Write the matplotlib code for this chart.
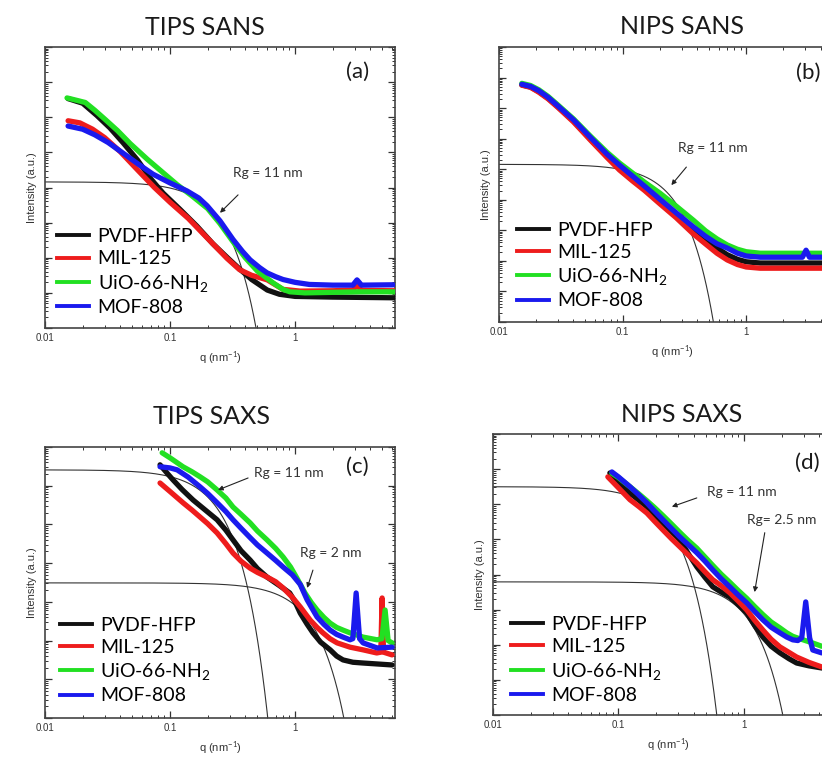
import numpy as np
import matplotlib
matplotlib.use("Agg")
import matplotlib.pyplot as plt
from matplotlib.ticker import LogLocator, NullFormatter
from matplotlib.lines import Line2D

plt.rcParams["mathtext.fontset"] = "custom"
plt.rcParams["mathtext.rm"] = "Lato"
plt.rcParams["mathtext.it"] = "Lato:italic"
plt.rcParams["mathtext.bf"] = "Lato:bold"

# ---------------------------------------------------------------- data
samples = ["PVDF-HFP", "MIL-125", "UiO-66-NH$_2$", "MOF-808"]
colors = ["#111111", "#ee1c1c", "#22e022", "#1a1aee"]

# (a) TIPS SANS  -- q in nm^-1, log10 of intensity (a.u.)
q_a_pvdf = [0.0153, 0.020, 0.026, 0.033, 0.042, 0.055, 0.070, 0.088, 0.12, 0.164, 0.22, 0.29, 0.36, 0.45, 0.60, 0.75, 1.0, 2.0, 6.3]
logI_a_pvdf = [6.53, 6.40, 6.05, 5.70, 5.28, 4.78, 4.25, 3.84, 3.38, 2.90, 2.40, 1.99, 1.68, 1.38, 1.08, 0.96, 0.90, 0.88, 0.86]
q_a_mil = [0.0153, 0.019, 0.024, 0.030, 0.040, 0.055, 0.075, 0.10, 0.14, 0.20, 0.286, 0.36, 0.45, 0.60, 0.80, 1.10, 2.0, 2.9, 3.13, 3.4, 6.3]
logI_a_mil = [5.90, 5.84, 5.66, 5.42, 5.02, 4.50, 4.00, 3.58, 3.12, 2.55, 1.98, 1.66, 1.50, 1.37, 1.10, 1.05, 1.06, 1.08, 1.22, 1.07, 1.06]
q_a_uio = [0.015, 0.018, 0.021, 0.025, 0.030, 0.038, 0.048, 0.066, 0.088, 0.114, 0.15, 0.20, 0.25, 0.32, 0.40, 0.50, 0.67, 0.80, 0.91, 1.2, 3.3, 6.3]
logI_a_uio = [6.55, 6.48, 6.42, 6.20, 5.95, 5.62, 5.25, 4.80, 4.42, 4.08, 3.76, 3.40, 2.98, 2.45, 2.00, 1.62, 1.28, 1.10, 1.03, 1.00, 1.03, 1.03]
q_a_mof = [0.0153, 0.020, 0.025, 0.032, 0.042, 0.055, 0.073, 0.10, 0.137, 0.17, 0.198, 0.251, 0.319, 0.38, 0.437, 0.52, 0.597, 0.70, 0.802, 1.0, 1.3, 2.0, 2.9, 3.13, 3.4, 6.1]
logI_a_mof = [5.75, 5.66, 5.50, 5.28, 4.98, 4.68, 4.38, 4.13, 3.90, 3.70, 3.48, 3.05, 2.52, 2.18, 1.94, 1.72, 1.57, 1.46, 1.38, 1.30, 1.24, 1.22, 1.22, 1.37, 1.22, 1.23]

# (b) NIPS SANS
q_b_pvdf = [0.0153, 0.018, 0.021, 0.025, 0.030, 0.040, 0.055, 0.075, 0.0946, 0.12, 0.15, 0.20, 0.27, 0.374, 0.47, 0.58, 0.703, 0.85, 1.0, 1.3, 6.3]
logI_b_pvdf = [7.76, 7.69, 7.54, 7.32, 7.04, 6.58, 5.98, 5.41, 5.00, 4.66, 4.36, 3.93, 3.48, 3.00, 2.70, 2.42, 2.20, 2.05, 1.97, 1.93, 1.93]
q_b_mil = [0.0153, 0.018, 0.021, 0.025, 0.030, 0.040, 0.055, 0.075, 0.0946, 0.12, 0.15, 0.20, 0.27, 0.374, 0.47, 0.58, 0.703, 0.85, 1.0, 1.3, 6.3]
logI_b_mil = [7.75, 7.68, 7.52, 7.30, 7.02, 6.55, 5.95, 5.38, 4.97, 4.62, 4.31, 3.87, 3.42, 2.88, 2.55, 2.25, 2.03, 1.88, 1.80, 1.76, 1.76]
q_b_uio = [0.0153, 0.018, 0.021, 0.025, 0.030, 0.040, 0.055, 0.075, 0.0946, 0.12, 0.15, 0.20, 0.27, 0.374, 0.47, 0.58, 0.703, 0.85, 1.0, 1.3, 6.3]
logI_b_uio = [7.81, 7.74, 7.60, 7.38, 7.10, 6.65, 6.08, 5.55, 5.20, 4.88, 4.58, 4.22, 3.80, 3.33, 2.98, 2.72, 2.52, 2.38, 2.30, 2.25, 2.25]
q_b_mof = [0.0153, 0.018, 0.021, 0.025, 0.030, 0.040, 0.055, 0.075, 0.0946, 0.12, 0.15, 0.20, 0.27, 0.374, 0.47, 0.58, 0.703, 0.85, 1.0, 1.3, 2.85, 3.05, 3.25, 6.3]
logI_b_mof = [7.78, 7.71, 7.57, 7.35, 7.07, 6.62, 6.04, 5.49, 5.13, 4.78, 4.45, 4.02, 3.58, 3.11, 2.80, 2.56, 2.42, 2.25, 2.16, 2.12, 2.12, 2.35, 2.12, 2.12]

# (c) TIPS SAXS
q_c_pvdf = [0.0832, 0.095, 0.1057, 0.125, 0.153, 0.19, 0.238, 0.28, 0.319, 0.37, 0.437, 0.50, 0.597, 0.75, 0.906, 1.0, 1.10, 1.25, 1.39, 1.6, 1.91, 2.15, 2.42, 2.9, 3.5, 5.97]
logI_c_pvdf = [6.54, 6.32, 6.15, 5.90, 5.63, 5.38, 5.12, 4.85, 4.60, 4.32, 4.08, 3.86, 3.64, 3.42, 3.23, 3.00, 2.71, 2.42, 2.20, 1.96, 1.76, 1.60, 1.50, 1.44, 1.42, 1.37]
q_c_mil = [0.0832, 0.10, 0.127, 0.15, 0.174, 0.20, 0.238, 0.28, 0.319, 0.37, 0.437, 0.50, 0.597, 0.70, 0.802, 0.95, 1.10, 1.32, 1.5, 1.67, 1.9, 2.17, 2.75, 3.5, 4.5, 4.85, 4.97, 5.1, 5.97]
logI_c_mil = [6.07, 5.85, 5.56, 5.37, 5.19, 5.02, 4.78, 4.50, 4.26, 4.05, 3.87, 3.76, 3.64, 3.52, 3.36, 3.12, 2.87, 2.53, 2.34, 2.20, 2.05, 1.94, 1.83, 1.76, 1.68, 1.70, 3.10, 1.70, 1.63]
q_c_uio = [0.0865, 0.10, 0.127, 0.15, 0.174, 0.20, 0.238, 0.28, 0.319, 0.37, 0.437, 0.50, 0.597, 0.70, 0.802, 0.92, 1.04, 1.2, 1.35, 1.5, 1.7, 1.91, 2.15, 2.42, 2.75, 3.5, 4.53, 4.95, 5.25, 5.55, 5.97]
logI_c_uio = [6.85, 6.72, 6.49, 6.36, 6.23, 6.10, 5.89, 5.68, 5.45, 5.26, 5.04, 4.83, 4.60, 4.38, 4.16, 3.90, 3.60, 3.23, 2.98, 2.79, 2.60, 2.45, 2.34, 2.27, 2.20, 2.09, 2.02, 2.05, 2.79, 2.00, 1.94]
q_c_mof = [0.0832, 0.10, 0.114, 0.14, 0.174, 0.20, 0.238, 0.28, 0.319, 0.37, 0.437, 0.50, 0.597, 0.70, 0.802, 0.95, 1.10, 1.25, 1.5, 1.7, 1.91, 2.15, 2.42, 2.75, 2.9, 3.08, 3.28, 3.5, 4.53, 5.97]
logI_c_mof = [6.49, 6.46, 6.41, 6.22, 5.97, 5.80, 5.56, 5.33, 5.12, 4.90, 4.66, 4.47, 4.26, 4.07, 3.90, 3.70, 3.45, 3.05, 2.61, 2.42, 2.27, 2.16, 2.09, 2.02, 2.05, 3.23, 2.05, 1.94, 1.81, 1.83]

# (d) NIPS SAXS
q_d_pvdf = [0.0855, 0.10, 0.1236, 0.145, 0.1687, 0.195, 0.2264, 0.265, 0.309, 0.36, 0.422, 0.49, 0.566, 0.66, 0.773, 0.90, 1.057, 1.22, 1.42, 1.65, 1.94, 2.3, 2.64, 3.3, 4.17, 6.3]
logI_d_pvdf = [6.89, 6.64, 6.32, 6.12, 5.93, 5.70, 5.47, 5.22, 4.99, 4.60, 4.22, 3.92, 3.65, 3.50, 3.36, 3.15, 2.91, 2.55, 2.22, 1.96, 1.77, 1.60, 1.48, 1.40, 1.34, 1.30]
q_d_mil = [0.0824, 0.10, 0.1236, 0.145, 0.1687, 0.195, 0.2264, 0.265, 0.309, 0.36, 0.422, 0.49, 0.566, 0.66, 0.773, 0.90, 1.057, 1.22, 1.42, 1.65, 1.94, 2.3, 2.64, 3.3, 4.17, 6.3]
logI_d_mil = [6.78, 6.47, 6.13, 5.94, 5.75, 5.51, 5.27, 5.02, 4.79, 4.56, 4.33, 4.08, 3.85, 3.68, 3.48, 3.25, 2.99, 2.70, 2.42, 2.16, 1.94, 1.78, 1.65, 1.50, 1.37, 1.30]
q_d_uio = [0.0887, 0.10, 0.1236, 0.145, 0.1687, 0.195, 0.2264, 0.265, 0.309, 0.36, 0.422, 0.49, 0.566, 0.66, 0.773, 0.90, 1.057, 1.22, 1.42, 1.65, 1.94, 2.2, 2.46, 2.8, 3.55, 4.17, 6.3]
logI_d_uio = [6.88, 6.76, 6.50, 6.30, 6.10, 5.90, 5.68, 5.44, 5.20, 4.97, 4.75, 4.50, 4.26, 4.01, 3.78, 3.55, 3.32, 3.09, 2.86, 2.65, 2.48, 2.34, 2.24, 2.17, 2.05, 1.96, 1.90]
q_d_mof = [0.0887, 0.10, 0.1236, 0.145, 0.1687, 0.195, 0.2264, 0.265, 0.309, 0.36, 0.422, 0.49, 0.566, 0.66, 0.773, 0.90, 1.057, 1.22, 1.42, 1.65, 1.94, 2.2, 2.46, 2.7, 2.9, 3.12, 3.35, 3.55, 4.17, 6.3]
logI_d_mof = [6.92, 6.78, 6.50, 6.27, 6.04, 5.80, 5.56, 5.31, 5.07, 4.85, 4.62, 4.38, 4.13, 3.88, 3.65, 3.42, 3.19, 2.95, 2.71, 2.50, 2.34, 2.22, 2.14, 2.12, 2.20, 3.22, 2.20, 1.85, 1.77, 1.75]

# Guinier fits: radius of gyration (nm) and log10 of forward intensity
guinier_a = [(11, 4.16)]
guinier_b = [(11, 5.16)]
guinier_c = [(11, 6.41), (2, 3.49)]
guinier_d = [(11, 6.50), (2.5, 3.79)]

titles = ["TIPS SANS", "NIPS SANS", "TIPS SAXS", "NIPS SAXS"]
tags = ["(a)", "(b)", "(c)", "(d)"]
decades = [8, 9, 7, 8]

# ---------------------------------------------------------------- layout
W, H = 822, 760
fig = plt.figure(figsize=(W / 100, H / 100), dpi=100)

# axes boxes in pixels: left, top, right, bottom
boxes = [(45, 47, 395, 328), (499, 47, 845, 322), (45, 447, 395, 718), (493, 434, 844, 715)]

panels = [
    dict(q=[q_a_pvdf, q_a_mil, q_a_uio, q_a_mof], I=[logI_a_pvdf, logI_a_mil, logI_a_uio, logI_a_mof],
         guinier=guinier_a, title_x=0.457, title_y=1.071, tag_xy=(0.894, 0.911), tag_ha="center",
         legend_xy=(0.035, 0.043),
         notes=[("Rg = 11 nm", (0.608, 10**4.42), (0.35, 10**3.79), (0.251, 10**3.28), "center")]),
    dict(q=[q_b_pvdf, q_b_mil, q_b_uio, q_b_mof], I=[logI_b_pvdf, logI_b_mil, logI_b_uio, logI_b_mof],
         guinier=guinier_b, title_x=0.529, title_y=1.073, tag_xy=(0.928, 0.905), tag_ha="right",
         legend_xy=(0.052, 0.046),
         notes=[("Rg = 11 nm", (0.532, 10**5.69), (0.328, 10**5.07), (0.248, 10**4.48), "center")]),
    dict(q=[q_c_pvdf, q_c_mil, q_c_uio, q_c_mof], I=[logI_c_pvdf, logI_c_mil, logI_c_uio, logI_c_mof],
         guinier=guinier_c, title_x=0.477, title_y=1.111, tag_xy=(0.891, 0.926), tag_ha="center",
         legend_xy=(0.043, 0.05),
         notes=[("Rg = 11 nm", (0.895, 10**6.33), (0.421, 10**6.20), (0.242, 10**5.89), "center"),
                ("Rg = 2 nm", (1.94, 10**4.26), (1.39, 10**3.82), (1.25, 10**3.36), "center")]),
    dict(q=[q_d_pvdf, q_d_mil, q_d_uio, q_d_mof], I=[logI_d_pvdf, logI_d_mil, logI_d_uio, logI_d_mof],
         guinier=guinier_d, title_x=0.536, title_y=1.068, tag_xy=(0.931, 0.897), tag_ha="right",
         legend_xy=(0.05, 0.04),
         notes=[("Rg = 11 nm", (0.964, 10**6.35), (0.422, 10**6.18), (0.267, 10**5.93), "center"),
                ("Rg= 2.5 nm", (1.06, 10**5.56), (1.47, 10**5.19), (1.22, 10**3.50), "left")]),
]

q_model = np.logspace(-2, np.log10(6.3), 600)

for i, (p, box) in enumerate(zip(panels, boxes)):
    l, t, r, b = box
    ax = fig.add_axes([l / W, 1 - b / H, (r - l) / W, (b - t) / H])
    ax.set_xscale("log")
    ax.set_yscale("log")
    ax.set_xlim(0.01, 6.3)
    ax.set_ylim(1, 10 ** decades[i])

    # Guinier approximations I0 * exp(-q^2 Rg^2 / 3)
    for rg, logi0 in p["guinier"]:
        ax.plot(q_model, 10 ** logi0 * np.exp(-(q_model * rg) ** 2 / 3.0),
                color="#333333", lw=0.8, zorder=2)

    # scattering curves
    for qs, li, c in zip(p["q"], p["I"], colors):
        ax.plot(qs, 10 ** np.asarray(li), color=c, lw=3.8, solid_capstyle="round",
                solid_joinstyle="round", zorder=3)

    # annotations
    for txt, txy, tail, head, ha in p["notes"]:
        ax.text(*txy, txt, fontsize=10, family="Lato", color="#333333", ha=ha, va="center", zorder=5)
        ax.annotate("", xy=head, xytext=tail,
                    arrowprops=dict(arrowstyle="-|>", color="#222222", lw=0.8,
                                    mutation_scale=7, shrinkA=0, shrinkB=0), zorder=5)

    ax.text(p["title_x"], p["title_y"], titles[i], transform=ax.transAxes, ha="center",
            va="center", fontsize=18, family="Lato", color="#1a1a1a")
    ax.text(*p["tag_xy"], tags[i], transform=ax.transAxes, ha=p["tag_ha"], va="center",
            fontsize=16, family="Lato", color="#1a1a1a")

    handles = [Line2D([], [], color=c, lw=2.8) for c in colors]
    ax.legend(handles, samples, loc="lower left", bbox_to_anchor=p["legend_xy"],
              frameon=False, prop={"family": "Lato", "size": 14}, handlelength=1.65,
              handletextpad=0.42, labelspacing=0.27, borderpad=0, borderaxespad=0)

    # ticks
    ax.set_xticks([0.01, 0.1, 1])
    ax.set_xticklabels(["0.01", "0.1", "1"], family="Liberation Sans")
    ax.xaxis.set_minor_locator(LogLocator(base=10, subs=np.arange(2, 10), numticks=100))
    ax.xaxis.set_minor_formatter(NullFormatter())
    ax.yaxis.set_major_locator(LogLocator(base=10, numticks=100))
    ax.yaxis.set_minor_locator(LogLocator(base=10, subs=np.arange(2, 10), numticks=200))
    ax.yaxis.set_minor_formatter(NullFormatter())
    ax.tick_params(which="both", direction="in", top=True, right=True, labelleft=False,
                   colors="#333333", labelsize=7, labelcolor="#333333")
    ax.tick_params(which="major", length=5, width=0.9)
    ax.tick_params(which="minor", length=2.5, width=0.7)
    for s in ax.spines.values():
        s.set_linewidth(1.2)
        s.set_color("#444444")

    ax.set_xlabel("q (nm$^{-1}$)", fontsize=8, family="Liberation Sans", color="#333333", labelpad=5)
    ax.set_ylabel("Intensity (a.u.)", fontsize=8, family="Liberation Sans", color="#333333", labelpad=6)

fig.savefig("out.png", dpi=100)
